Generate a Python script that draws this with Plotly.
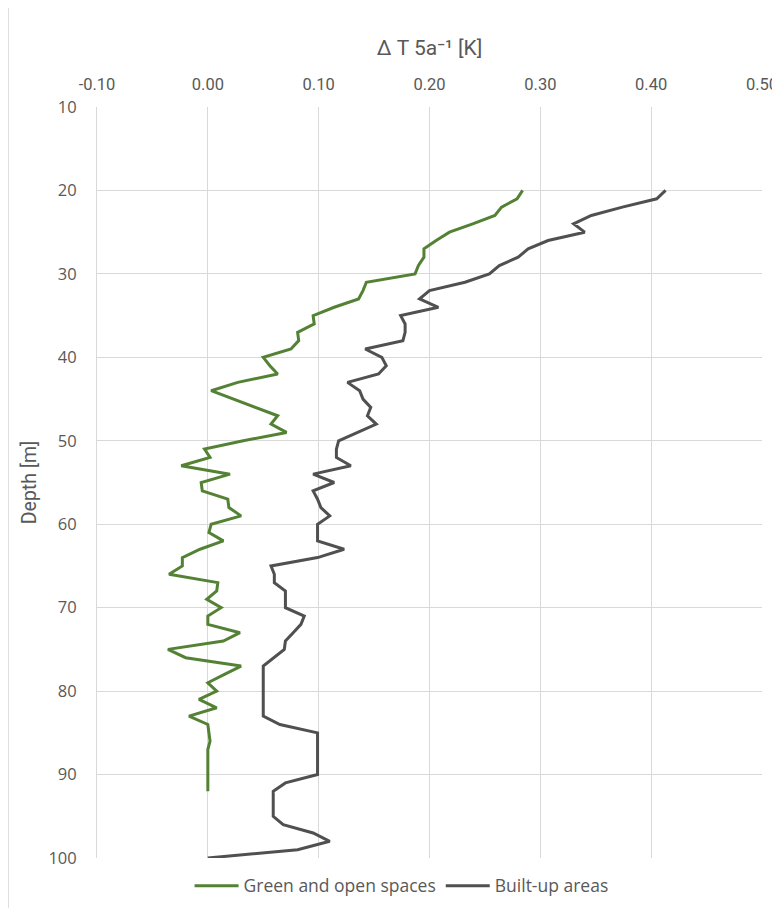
import plotly.graph_objects as go

# Depths [m]
depth_green = list(range(20, 93))
depth_built = list(range(20, 101))

# Delta T over 5 years [K]
green_values = [
    0.284, 0.279, 0.265, 0.259, 0.239, 0.218, 0.206, 0.195, 0.195, 0.190,  # 20-29
    0.187, 0.143, 0.140, 0.136, 0.114, 0.095, 0.096, 0.081, 0.082, 0.075,  # 30-39
    0.050, 0.056, 0.063, 0.027, 0.003, 0.023, 0.042, 0.063, 0.057, 0.071,  # 40-49
    0.032, -0.003, 0.002, -0.024, 0.020, -0.006, -0.005, 0.018, 0.019, 0.030,  # 50-59
    0.003, 0.001, 0.014, -0.007, -0.023, -0.023, -0.035, 0.009, 0.008, -0.001,  # 60-69
    0.012, 0.000, 0.000, 0.029, 0.014, -0.036, -0.020, 0.030, 0.015, 0.000,  # 70-79
    0.008, -0.008, 0.008, -0.017, 0.000, 0.001, 0.002, 0.000, 0.000, 0.000,  # 80-89
    0.000, 0.000, 0.000,  # 90-92
]

built_values = [
    0.413, 0.405, 0.374, 0.346, 0.330, 0.340, 0.307, 0.289, 0.280, 0.263,  # 20-29
    0.254, 0.232, 0.200, 0.191, 0.208, 0.174, 0.178, 0.178, 0.176, 0.142,  # 30-39
    0.157, 0.161, 0.154, 0.126, 0.137, 0.140, 0.147, 0.144, 0.152, 0.135,  # 40-49
    0.118, 0.116, 0.116, 0.129, 0.095, 0.114, 0.095, 0.099, 0.102, 0.110,  # 50-59
    0.099, 0.099, 0.099, 0.123, 0.099, 0.057, 0.060, 0.060, 0.070, 0.070,  # 60-69
    0.070, 0.087, 0.084, 0.077, 0.070, 0.069, 0.059, 0.050, 0.050, 0.050,  # 70-79
    0.050, 0.050, 0.050, 0.050, 0.065, 0.099, 0.099, 0.099, 0.099, 0.099,  # 80-89
    0.099, 0.070, 0.059, 0.059, 0.059, 0.059, 0.068, 0.095, 0.110, 0.081,  # 90-99
    0.000,  # 100
]

x_ticks = [-0.10, 0.00, 0.10, 0.20, 0.30, 0.40, 0.50]
x_ticktext = ["-0.10", "0.00", "0.10", "0.20", "0.30", "0.40", "0.50"]
y_ticks = [10, 20, 30, 40, 50, 60, 70, 80, 90, 100]

GREEN = "#548235"
GRAY = "#505050"
TEXT = "#595959"
GRID = "#d9d9d9"

fig = go.Figure()
fig.add_trace(go.Scatter(x=green_values, y=depth_green, mode="lines",
                         name="Green and open spaces",
                         line=dict(color=GREEN, width=3)))
fig.add_trace(go.Scatter(x=built_values, y=depth_built, mode="lines",
                         name="Built-up areas",
                         line=dict(color=GRAY, width=3)))

# page body adds an 8px offset; the figure is sized to fit inside the window
fig.update_layout(
    width=772, height=900,
    margin=dict(l=89, r=18, t=99, b=50, autoexpand=False),
    paper_bgcolor="white", plot_bgcolor="white",
    showlegend=True,
    legend=dict(orientation="h", x=0.458, xanchor="center", y=-0.013,
                yanchor="top", font=dict(family="Open Sans", size=17.5, color=TEXT),
                itemwidth=44, tracegroupgap=0),
    xaxis=dict(side="top", range=[-0.10, 0.50], tickvals=x_ticks, ticktext=x_ticktext,
               showgrid=True, gridcolor=GRID, gridwidth=1, automargin=False,
               zeroline=False, showline=False,
               ticks="outside", ticklen=9, tickcolor="rgba(0,0,0,0)",
               tickfont=dict(family="Roboto", size=16.5, color=TEXT),
               title=dict(text="Δ T 5a⁻¹ [K]", standoff=14,
                          font=dict(family="Roboto", size=21, color=TEXT))),
    yaxis=dict(range=[100, 10], tickvals=y_ticks, showgrid=True, automargin=False,
               gridcolor=GRID, gridwidth=1, zeroline=False,
               showline=True, linecolor=GRID, linewidth=1, mirror=False,
               ticks="outside", ticklen=16, tickcolor="rgba(0,0,0,0)",
               tickfont=dict(family="Open Sans", size=16.5, color=TEXT),
               title=dict(text="Depth [m]", standoff=6,
                          font=dict(family="Roboto", size=19.5, color=TEXT))),
)

# chart-area border on the left
fig.add_shape(type="line", xref="paper", yref="paper",
              x0=(8 - 97) / 665, x1=(8 - 97) / 665, y0=-50 / 751, y1=1 + 99 / 751,
              line=dict(color="#bfbfbf", width=1))

fig.write_html("out.html")
